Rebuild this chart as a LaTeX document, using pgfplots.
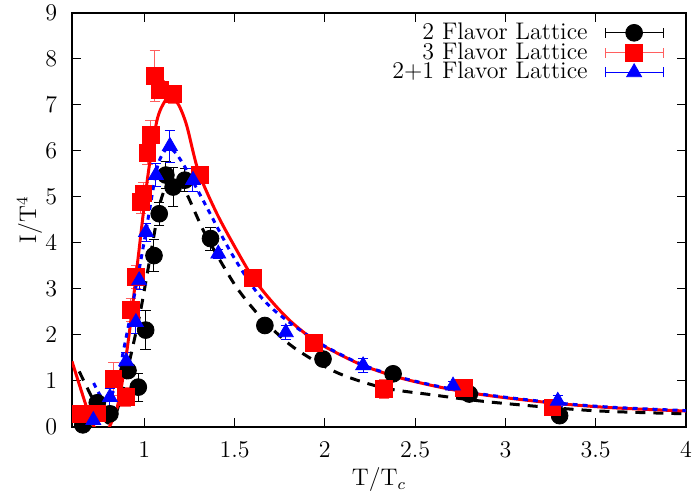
\documentclass[12pt,border=0pt]{standalone}
\usepackage{pgfplots}
\pgfplotsset{compat=1.18}
\definecolor{errred}{RGB}{255,95,95}
\pgfplotsset{
  errleg/.style={legend image code/.code={
    \draw[#1,line width=0.5pt] (0pt,0pt)--(29pt,0pt) (0pt,-2.5pt)--(0pt,2.5pt) (29pt,-2.5pt)--(29pt,2.5pt);
    \draw[mark repeat=2,mark phase=2,##1] plot coordinates {(0pt,0pt)(14.5pt,0pt)(29pt,0pt)};}},
}
\begin{document}
\begin{tikzpicture}
\begin{axis}[
  scale only axis, width=307pt, height=207pt,
  xmin=0.6, xmax=4, ymin=0, ymax=9,
  xtick={1,1.5,2,2.5,3,3.5,4},
  ytick={0,1,2,3,4,5,6,7,8,9},
  tick align=inside, tick style={black, line width=0.6pt}, major tick length=4.5pt,
  axis line style={line width=0.9pt},
  xticklabel style={yshift=-3.5pt},
  yticklabel style={xshift=-3.2pt},
  xlabel={T/T$_c$}, ylabel={I/T$^4$},
  xlabel style={at={(axis description cs:0.5,0)}, anchor=center, yshift=-26.5pt},
  ylabel style={at={(axis description cs:-0.069,0.5)}, anchor=center},
  clip=true,
  legend plot pos=right,
  legend cell align=right,
  legend style={draw=none, fill=none, at={(rel axis cs:0.974,0.986)}, anchor=north east,
    nodes={inner ysep=0pt, inner xsep=3pt, text height=8.2pt, text depth=1.7pt}, row sep=0pt, column sep=5.5pt},
  error bars/error bar style={line width=0.5pt},
]
\coordinate (bl) at (rel axis cs:0,0);
\coordinate (tr) at (rel axis cs:1,1);
% 2 flavor
\addplot+[only marks, black, mark=*, mark size=4.2pt, mark options={fill=black, draw=black},
  error bars/.cd, y dir=both, y explicit,
  error bar style={black}, error mark options={rotate=90, mark size=2.6pt, black}]
  [errleg={black}]
  table[x=x, y=y, y error=e] {
x y e
0.66 0.04 0.05
0.74 0.52 0.10
0.81 0.28 0.10
0.91 1.22 0.15
0.967 0.86 0.30
1.008 2.10 0.43
1.054 3.72 0.35
1.083 4.63 0.25
1.12 5.47 0.30
1.16 5.21 0.43
1.225 5.36 0.25
1.367 4.09 0.25
1.668 2.20 0.10
1.99 1.47 0.10
2.378 1.15 0.10
2.80 0.71 0.08
3.30 0.24 0.10
};
\addlegendentry{2 Flavor Lattice}
% 3 flavor
\addplot+[only marks, red, mark=square*, mark size=4.2pt, mark options={fill=red, draw=red},
  error bars/.cd, y dir=both, y explicit,
  error bar style={errred}, error mark options={rotate=90, mark size=2.6pt, errred}]
  [errleg={errred}]
  table[x=x, y=y, y error=e] {
x y e
0.648 0.27 0.10
0.737 0.29 0.10
0.829 1.04 0.35
0.897 0.65 0.20
0.926 2.54 0.25
0.954 3.25 0.25
0.982 4.89 0.25
0.995 5.07 0.25
1.017 5.96 0.25
1.035 6.35 0.30
1.059 7.62 0.55
1.087 7.33 0.20
1.16 7.23 0.20
1.308 5.47 0.15
1.60 3.24 0.10
1.939 1.82 0.10
2.328 0.82 0.20
2.77 0.85 0.10
3.26 0.42 0.10
};
\addlegendentry{3 Flavor Lattice}
% 2+1 flavor
\addplot+[only marks, blue, mark=triangle*, mark size=4.3pt, mark options={fill=blue, draw=blue},
  error bars/.cd, y dir=both, y explicit,
  error bar style={blue}, error mark options={rotate=90, mark size=2.6pt, blue}]
  [errleg={blue}]
  table[x=x, y=y, y error=e] {
x y e
0.718 0.14 0.15
0.81 0.64 0.20
0.90 1.42 0.20
0.954 2.27 0.25
0.972 3.18 0.20
1.01 4.23 0.20
1.065 5.47 0.25
1.142 6.10 0.35
1.27 5.36 0.25
1.41 3.76 0.10
1.784 2.05 0.15
2.212 1.33 0.15
2.71 0.89 0.10
3.29 0.56 0.12
};
\addlegendentry{2+1 Flavor Lattice}
% curves
\addplot[black, line width=1.5pt, dash pattern=on 5pt off 4pt, smooth, forget plot] coordinates {
(0.64,1.20) (0.68,0.88) (0.72,0.56) (0.76,0.27) (0.80,0.08) (0.84,0.25) (0.88,0.78)
(0.92,1.45) (0.976,2.45) (1.01,3.18) (1.05,4.07) (1.087,4.85) (1.133,5.34) (1.17,5.43)
(1.20,5.32) (1.244,4.99) (1.327,4.27) (1.419,3.62) (1.52,2.98) (1.65,2.36) (1.825,1.73)
(2.065,1.18) (2.32,0.85) (2.58,0.70) (2.93,0.53) (3.48,0.35) (4.0,0.28)};
\addplot[red, line width=1.5pt, smooth, forget plot] coordinates {
(0.6,1.42) (0.65,0.80) (0.70,0.20) (0.74,-0.12) (0.78,-0.18) (0.81,0.02) (0.85,0.42)
(0.88,1.02) (0.92,2.12) (0.97,3.80) (1.02,5.45) (1.07,6.65) (1.115,7.08) (1.15,7.15)
(1.19,7.0) (1.235,6.55) (1.30,5.55) (1.40,4.65) (1.50,3.92) (1.60,3.25) (1.70,2.75)
(1.80,2.33) (1.90,2.0) (2.0,1.74) (2.2,1.35) (2.4,1.08) (2.6,0.89) (2.8,0.74) (3.0,0.63)
(3.3,0.50) (3.6,0.41) (4.0,0.34)};
\addplot[blue, line width=1.5pt, dash pattern=on 2.5pt off 2.5pt, smooth, forget plot] coordinates {
(0.72,0.95) (0.75,0.72) (0.78,0.57) (0.81,0.62) (0.85,1.00) (0.89,1.75) (0.95,2.95)
(1.004,4.12) (1.069,5.58) (1.11,5.98) (1.142,6.05) (1.18,5.92) (1.235,5.58) (1.345,4.78)
(1.474,3.83) (1.603,3.03) (1.70,2.60) (1.80,2.28) (1.90,2.00) (2.0,1.75) (2.2,1.36)
(2.4,1.09) (2.6,0.90) (2.8,0.75) (3.0,0.64) (3.3,0.51) (3.6,0.42) (4.0,0.35)};
\end{axis}
\pgfresetboundingbox
\path[use as bounding box] ([shift={(-36pt,-34.15pt)}]bl) rectangle ([shift={(4pt,6.35pt)}]tr);
\end{tikzpicture}
\end{document}
